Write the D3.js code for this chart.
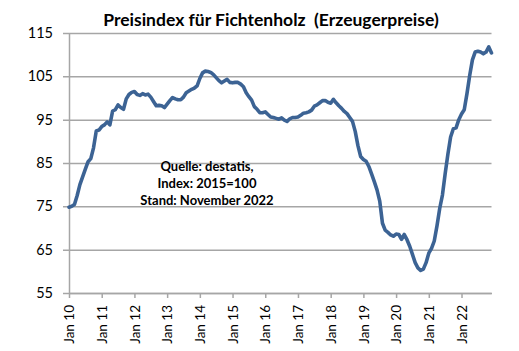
<!DOCTYPE html>
<html><head><meta charset="utf-8">
<script src="https://cdn.jsdelivr.net/npm/d3@7"></script>
<style>body{margin:0;background:#fff;} svg{display:block;}</style>
</head><body>
<svg id="c" width="519" height="351"></svg>
<script>
const title = "Preisindex für Fichtenholz  (Erzeugerpreise)";
const noteLines = ["Quelle: destatis,", "Index: 2015=100", "Stand: November 2022"];
const yTicks = [55, 65, 75, 85, 95, 105, 115];
const xTickLabels = ["Jan 10","Jan 11","Jan 12","Jan 13","Jan 14","Jan 15","Jan 16","Jan 17","Jan 18","Jan 19","Jan 20","Jan 21","Jan 22"];
const values = [
  // 2010
  74.8, 75.0, 75.4, 77.5, 80.0, 81.8, 83.6, 85.3, 86.0, 88.5, 92.4, 92.6,
  // 2011
  93.4, 93.8, 94.5, 93.8, 97.0, 97.3, 98.4, 97.8, 97.4, 99.8, 100.8, 101.3,
  // 2012
  101.5, 100.8, 100.6, 101.0, 100.7, 100.9, 100.2, 99.2, 98.2, 98.3, 98.2, 97.8,
  // 2013
  98.6, 99.4, 100.1, 99.8, 99.6, 99.6, 100.2, 101.2, 101.6, 102.0, 102.3, 102.8,
  // 2014
  104.5, 105.8, 106.2, 106.1, 105.9, 105.4, 104.7, 104.0, 103.5, 103.9, 104.3, 103.6,
  // 2015
  103.5, 103.6, 103.6, 103.2, 102.6, 101.2, 100.3, 99.5, 98.0, 97.4, 96.6, 96.6,
  // 2016
  96.8, 96.2, 95.6, 95.5, 95.3, 95.1, 95.4, 94.9, 94.6, 95.2, 95.5, 95.5,
  // 2017
  95.6, 96.0, 96.5, 96.6, 96.8, 97.2, 98.1, 98.4, 98.9, 99.4, 99.4, 99.0,
  // 2018
  98.8, 99.7, 98.9, 98.2, 97.6, 96.9, 96.4, 95.5, 94.6, 92.3, 89.0, 86.5,
  // 2019
  85.8, 85.4, 84.2, 82.5, 80.7, 78.8, 76.2, 71.1, 69.5, 69.0, 68.4, 68.1,
  // 2020
  68.6, 68.5, 67.4, 68.5, 67.3, 65.8, 63.9, 62.0, 60.8, 60.2, 60.5, 62.0,
  // 2021
  64.2, 65.3, 67.0, 70.5, 74.5, 77.6, 82.5, 87.0, 91.0, 92.9, 93.1, 95.0,
  // 2022
  96.3, 97.3, 101.0, 105.2, 108.8, 110.6, 110.8, 110.6, 110.2, 110.6, 111.8, 110.4
];

const svg = d3.select("#c");
const mLeft = 69, mRight = 491.5, mTop = 33, mBottom = 293;
const x = d3.scaleLinear().domain([0, values.length - 1]).range([mLeft, mRight]);
const y = d3.scaleLinear().domain([55, 115]).range([mBottom, mTop]);
const gridColor = "#a6a6a6";
const font = "Lato, 'Open Sans', sans-serif";

// gridlines + y axis
const yAxis = d3.axisLeft(y).tickValues(yTicks).tickSize(-(mRight - mLeft)).tickSizeOuter(0).tickPadding(10).tickFormat(d3.format("d"));
const gy = svg.append("g").attr("transform", `translate(${mLeft},0)`).call(yAxis);
gy.select(".domain").attr("stroke", gridColor).attr("stroke-width", 1.5);
gy.selectAll(".tick line").attr("stroke", gridColor).attr("stroke-width", 1.5).attr("x1", -6);
gy.selectAll(".tick text").attr("font-family", font).attr("font-size", 14.5).attr("fill", "#000").attr("x", -16);

// x axis
const xAxis = d3.axisBottom(x).tickValues(xTickLabels.map((d, i) => i * 12)).tickFormat((d, i) => xTickLabels[i]).tickSize(5).tickSizeOuter(0);
const gx = svg.append("g").attr("transform", `translate(0,${mBottom})`).call(xAxis);
gx.select(".domain").attr("stroke", gridColor).attr("stroke-width", 1.5);
gx.selectAll(".tick line").attr("stroke", gridColor).attr("stroke-width", 1.5);
gx.selectAll(".tick text")
  .attr("font-family", font).attr("font-size", 13.5).attr("fill", "#000")
  .attr("transform", "rotate(-90)")
  .attr("text-anchor", "end").attr("x", -12).attr("y", 0).attr("dy", "0.35em");

// line
const line = d3.line().x((d, i) => x(i)).y(d => y(d)).curve(d3.curveLinear);
svg.append("path").datum(values).attr("d", line)
  .attr("fill", "none").attr("stroke", "#3c6394").attr("stroke-width", 3.6)
  .attr("stroke-linejoin", "round").attr("stroke-linecap", "round");

// title
svg.append("text").attr("x", 271).attr("y", 26).attr("text-anchor", "middle")
  .attr("font-family", font).attr("font-weight", "bold").attr("font-size", 17.5).attr("fill", "#000")
  .attr("xml:space", "preserve").style("white-space", "pre").text(title);

// note
svg.append("g").selectAll("text").data(noteLines).join("text")
  .attr("x", 207).attr("y", (d, i) => 171 + i * 17).attr("text-anchor", "middle")
  .attr("font-family", font).attr("font-weight", "bold").attr("font-size", 13).attr("fill", "#000")
  .text(d => d);
</script>
</body></html>
